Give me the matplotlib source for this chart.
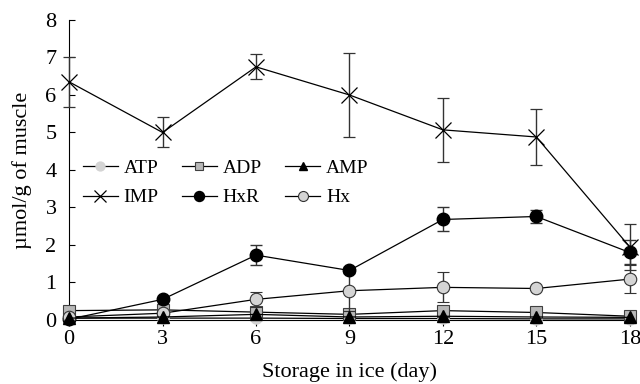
import matplotlib
matplotlib.use("Agg")
import matplotlib.pyplot as plt
from matplotlib.lines import Line2D

plt.rcParams['font.family'] = ['Liberation Serif', 'DejaVu Serif']

days = [0, 3, 6, 9, 12, 15, 18]
atp = [0.05, 0.05, 0.05, 0.04, 0.04, 0.03, 0.03]
adp = [0.25, 0.27, 0.21, 0.15, 0.25, 0.20, 0.10]
amp = [0.05, 0.08, 0.15, 0.08, 0.10, 0.08, 0.07]
imp = [6.35, 5.00, 6.75, 6.00, 5.07, 4.88, 1.95]
imp_err = [0.67, 0.40, 0.33, 1.12, 0.85, 0.75, 0.62]
hxr = [0.02, 0.55, 1.73, 1.32, 2.68, 2.76, 1.80]
hxr_err = [0.02, 0.05, 0.27, 0.08, 0.32, 0.17, 0.32]
hx = [0.08, 0.18, 0.55, 0.78, 0.87, 0.84, 1.09]
hx_err = [0.03, 0.05, 0.20, 0.55, 0.40, 0.05, 0.37]
yticks = [0, 1, 2, 3, 4, 5, 6, 7, 8]

fig = plt.figure(figsize=(6.4, 3.84), dpi=100)
ax = fig.add_axes([0.108, 0.1667, 0.876, 0.7813])

fs = 16
lfs = 14
lw = 0.9
styles = {
    'ATP': dict(marker='o', ms=8, mfc='#d4d4d4', mec='#d4d4d4'),
    'ADP': dict(marker='s', ms=8, mfc='#b8b8b8', mec='#404040', mew=0.8),
    'AMP': dict(marker='^', ms=8, mfc='black', mec='black'),
    'IMP': dict(marker='x', ms=11, mew=0.9, mec='black'),
    'HxR': dict(marker='o', ms=9, mfc='black', mec='black'),
    'Hx': dict(marker='o', ms=9, mfc='#d4d4d4', mec='#333333', mew=0.8),
}
ax.plot(days, atp, '-', color='black', lw=lw, clip_on=False, zorder=3, **styles['ATP'])
ax.plot(days, adp, '-', color='black', lw=lw, clip_on=False, zorder=3, **styles['ADP'])
ax.plot(days, amp, '-', color='black', lw=lw, clip_on=False, zorder=4, **styles['AMP'])
ek = dict(ecolor='#333333', elinewidth=1.0, capsize=4, capthick=1.0)
ax.errorbar(days, imp, yerr=imp_err, fmt='-', color='black', lw=lw, clip_on=False,
            zorder=3, **ek, **styles['IMP'])
ax.errorbar(days, hxr, yerr=hxr_err, fmt='-', color='black', lw=lw, clip_on=False,
            zorder=3, **ek, **styles['HxR'])
ax.errorbar(days, hx, yerr=hx_err, fmt='-', color='black', lw=lw, clip_on=False,
            zorder=3, **ek, **styles['Hx'])

ax.set_xlim(0, 18)
ax.set_ylim(0, 8)
ax.set_xticks(days)
ax.set_yticks(yticks)
ax.spines['top'].set_visible(False)
ax.spines['right'].set_visible(False)
ax.tick_params(axis='y', direction='in', length=4, labelsize=fs, pad=9)
ax.tick_params(axis='x', direction='out', length=4, labelsize=fs, pad=3)
ax.set_xlabel('Storage in ice (day)', fontsize=fs, labelpad=10)
ax.set_ylabel('µmol/g of muscle', fontsize=fs, labelpad=10)

col_order = ['ATP', 'IMP', 'ADP', 'HxR', 'AMP', 'Hx']
handles = []
for k in col_order:
    st = dict(styles[k])
    st['ms'] = st['ms'] * 0.8
    handles.append(Line2D([], [], color='black', lw=lw, **st))
leg = ax.legend(handles, col_order, ncol=3, frameon=False,
                fontsize=lfs, loc='upper left', bbox_to_anchor=(0.0, 0.58),
                handlelength=1.8, columnspacing=1.2, handletextpad=0.3,
                labelspacing=0.6, borderaxespad=0.3)

fig.savefig('out.png', dpi=100)
